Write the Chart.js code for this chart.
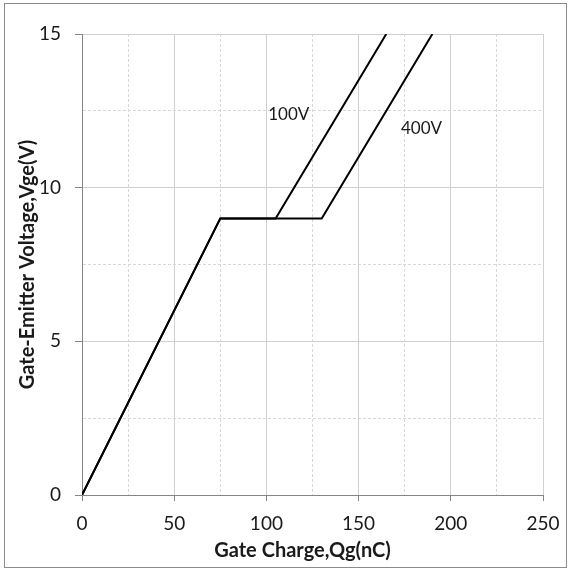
<!DOCTYPE html>
<html><head><meta charset="utf-8">
<script src="https://cdn.jsdelivr.net/npm/chart.js@4.4.0/dist/chart.umd.min.js"></script>
<style>
html,body{margin:0;padding:0;background:#fff;}
#wrap{position:absolute;left:0;top:0;width:569px;height:571px;}
#frame{position:absolute;left:4px;top:3px;width:561px;height:563px;border:1px solid #8c8c8c;pointer-events:none;}
</style></head>
<body>
<div id="wrap"><canvas id="c" width="569" height="571"></canvas><div id="frame"></div></div>
<script>
// Data
const q100 = [0, 75, 105, 165];
const v100 = [0, 9, 9, 15];
const q400 = [0, 75, 130, 190];
const v400 = [0, 9, 9, 15];
const xTicks = [0, 50, 100, 150, 200, 250];
const yTicks = [0, 5, 10, 15];
const xGrid = [0, 25, 50, 75, 100, 125, 150, 175, 200, 225, 250];
const yGrid = [0, 2.5, 5, 7.5, 10, 12.5, 15];
const curveLabels = ['100V', '400V'];
const labelQ = [101, 173];
const labelV = [12.38, 11.93];
const xTitle = 'Gate Charge,Qg(nC)';
const yTitle = 'Gate-Emitter Voltage,Vge(V)';

const FONT = 'Lato, "Open Sans", sans-serif';
const TXT = '#1a1a1a';
const toPts = (xs, ys) => xs.map((x, i) => ({x: x, y: ys[i]}));

const labelPlugin = {
  id: 'curveLabels',
  afterDatasetsDraw(chart) {
    const ctx = chart.ctx, xs = chart.scales.x, ys = chart.scales.y;
    ctx.save();
    ctx.fillStyle = TXT;
    ctx.font = '17px ' + FONT;
    ctx.textAlign = 'left';
    ctx.textBaseline = 'middle';
    curveLabels.forEach((t, i) => {
      ctx.fillText(t, xs.getPixelForValue(labelQ[i]), ys.getPixelForValue(labelV[i]));
    });
    // x axis title, slightly left of the plot centre as in the reference
    ctx.font = 'bold 20px ' + FONT;
    ctx.textAlign = 'center';
    const ca = chart.chartArea;
    ctx.fillText(xTitle, (ca.left + ca.right) / 2 - 10, 551);
    ctx.restore();
  }
};

const isMajorX = v => xTicks.includes(v);
const isMajorY = v => yTicks.includes(v);
const PAD = {left: 10, right: 0, top: 34, bottom: 8};

new Chart(document.getElementById('c'), {
  type: 'scatter',
  data: {
    datasets: [
      {label: '100V', data: toPts(q100, v100), showLine: true, borderColor: '#000', borderWidth: 2, pointRadius: 0, fill: false, tension: 0},
      {label: '400V', data: toPts(q400, v400), showLine: true, borderColor: '#000', borderWidth: 2, pointRadius: 0, fill: false, tension: 0}
    ]
  },
  options: {
    responsive: false,
    animation: false,
    devicePixelRatio: 1,
    layout: {padding: PAD},
    plugins: {legend: {display: false}, tooltip: {enabled: false}},
    scales: {
      x: {
        type: 'linear', min: 0, max: 250,
        afterBuildTicks: s => { s.ticks = xGrid.map(v => ({value: v})); },
        afterFit: s => { s.height = 571 - 495 - PAD.bottom; s.paddingRight = 26; },
        ticks: {
          color: TXT, font: {family: FONT, size: 19}, padding: 11, maxRotation: 0, autoSkip: false,
          callback: v => isMajorX(v) ? String(v) : ''
        },
        grid: {
          color: c => (c.tick && c.tick.value === 0) ? '#868686' : (c.tick && isMajorX(c.tick.value) ? '#d0d0d0' : '#d8d8d8'),
          tickColor: c => (c.tick && isMajorX(c.tick.value)) ? '#868686' : 'rgba(0,0,0,0)',
          tickLength: 6, lineWidth: 1
        },
        border: {display: true, color: '#868686', dash: c => (c.tick && !isMajorX(c.tick.value)) ? [3, 2] : []},
        title: {display: false}
      },
      y: {
        type: 'linear', min: 0, max: 15,
        afterBuildTicks: s => { s.ticks = yGrid.map(v => ({value: v})); },
        afterFit: s => { s.width = 82 - PAD.left; },
        ticks: {
          color: TXT, font: {family: FONT, size: 19}, padding: 14, autoSkip: false,
          callback: v => isMajorY(v) ? String(v) : ''
        },
        grid: {
          color: c => (c.tick && c.tick.value === 0) ? '#868686' : (c.tick && isMajorY(c.tick.value) ? '#d0d0d0' : '#d8d8d8'),
          tickColor: c => (c.tick && isMajorY(c.tick.value)) ? '#868686' : 'rgba(0,0,0,0)',
          tickLength: 7, lineWidth: 1
        },
        border: {display: true, color: '#868686', dash: c => (c.tick && !isMajorY(c.tick.value)) ? [3, 2] : []},
        title: {display: true, text: yTitle, color: TXT, font: {family: FONT, size: 20, weight: 'bold'}, padding: {top: 6, bottom: 0}}
      }
    }
  },
  plugins: [labelPlugin]
});
</script>
</body></html>
